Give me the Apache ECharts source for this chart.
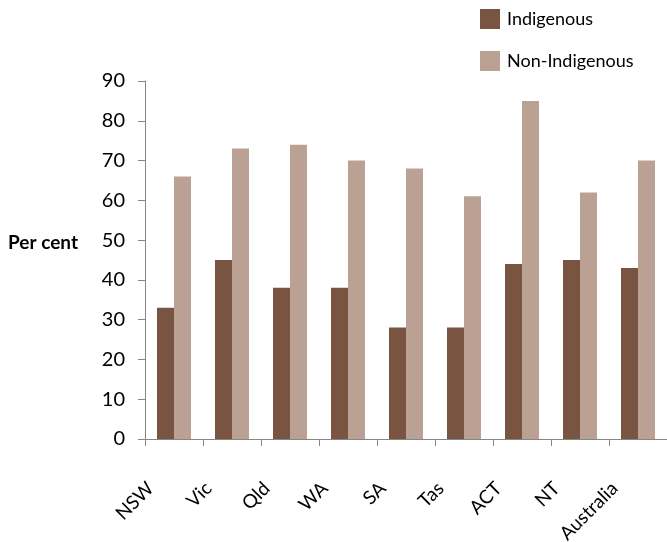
<!DOCTYPE html>
<html><head><meta charset="utf-8">
<script src="https://cdn.jsdelivr.net/npm/echarts@6/dist/echarts.min.js"></script>
<style>html,body{margin:0;padding:0;background:#fff}#c{width:667px;height:542px}</style>
</head><body><div id="c"></div>
<script>
var categories = ['NSW','Vic','Qld','WA','SA','Tas','ACT','NT','Australia'];
var indigenous = [33,45,38,38,28,28,44,45,43];
var nonIndigenous = [66,73,74,70,68,61,85,62,70];
var yTicks = {min:0, max:90, interval:10};
var yAxisTitle = 'Per cent';
var FONT = 'Lato';
var chart = echarts.init(document.getElementById('c'));
chart.setOption({
  animation:false,
  title:{text:yAxisTitle, left:8, top:233, padding:0,
    textStyle:{fontFamily:FONT, fontSize:19, fontWeight:'bold', color:'#000'}},
  grid:{left:145, right:0, top:81, bottom:103, containLabel:false, outerBoundsMode:'none'},
  legend:{orient:'vertical', left:475, top:4, itemWidth:20, itemHeight:20, itemGap:22, icon:'rect',
    textStyle:{fontFamily:FONT, fontSize:18, color:'#000', padding:[0,0,0,2]},
    data:['Indigenous','Non-Indigenous']},
  xAxis:{type:'category', data:categories,
    axisLine:{lineStyle:{color:'#868686'}},
    axisTick:{show:true, length:7, lineStyle:{color:'#868686'}},
    axisLabel:{rotate:45, fontFamily:FONT, fontSize:19, color:'#000', margin:23, padding:[0,33,0,0], interval:0}},
  yAxis:{type:'value', min:yTicks.min, max:yTicks.max, interval:yTicks.interval,
    splitLine:{show:false},
    axisLine:{show:true, lineStyle:{color:'#868686'}},
    axisTick:{show:true, length:7, lineStyle:{color:'#868686'}},
    axisLabel:{fontFamily:FONT, fontSize:20, color:'#000', margin:20}},
  series:[
    {name:'Indigenous', type:'bar', data:indigenous, barWidth:17, barGap:'0%', itemStyle:{color:'#795440'}},
    {name:'Non-Indigenous', type:'bar', data:nonIndigenous, barWidth:17, barGap:'0%', itemStyle:{color:'#baa194'}}
  ]
});
</script></body></html>
